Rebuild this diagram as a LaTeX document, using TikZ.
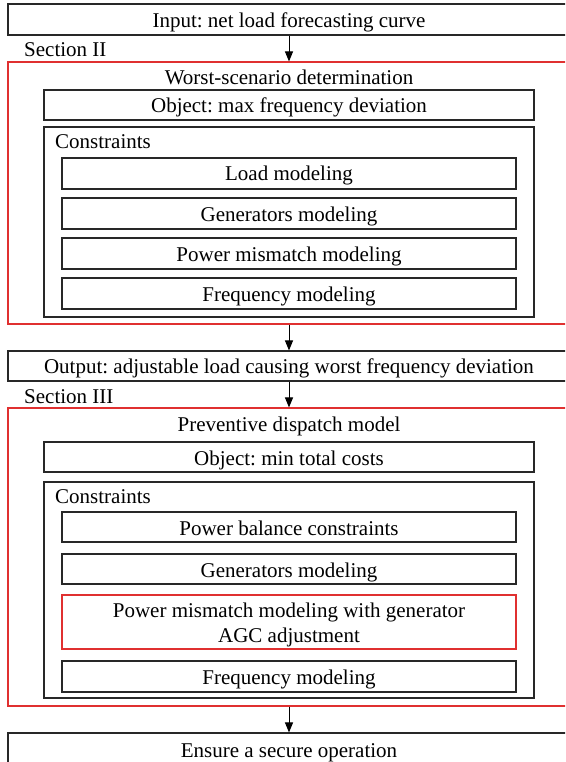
\documentclass[tikz,border=0pt]{standalone}
\usepackage{fontspec}
\setmainfont{Liberation Serif}
\frenchspacing
\usetikzlibrary{arrows.meta,fit}
\definecolor{secred}{RGB}{224,48,48}
\definecolor{linegray}{RGB}{40,40,40}
\begin{document}
\begin{tikzpicture}[x=1pt,y=-1pt,
  lbl/.style={font=\fontsize{21}{25}\selectfont, inner sep=0pt, anchor=base},
  lbll/.style={lbl, anchor=base west},
  blk/.style={draw=linegray, line width=1.1pt, inner sep=0pt},
  redblk/.style={draw=secred, line width=1.1pt, inner sep=0pt},
  flow/.style={draw=black, line width=1pt, -{Triangle[length=10pt,width=8pt]}}]
\useasboundingbox (0,0) rectangle (565,762);
\clip (0,0) rectangle (565,762);
\coordinate (axis) at (289,0);

% input
\node[blk, fit={(8,4)(570,35)}] (inp) {};
\node[lbl] (inpT) at (289,28) {Input: net load forecasting curve};

% Section II: worst-scenario determination
\node[lbll] (s2T) at (24,57) {Section II};
\node[redblk, fit={(8,62)(570,324)}] (s2) {};
\node[lbl] (s2title) at (289,85) {Worst-scenario determination};
\node[blk, fit={(44,90)(534,120)}] (obj1) {};
\node[lbl] (obj1T) at (289,113) {Object: max frequency deviation};
\node[blk, fit={(44,127)(534,317)}] (con1) {};
\node[lbll] (con1T) at (55,149) {Constraints};
\node[blk, fit={(62,158)(516,189)}] (c1a) {};
\node[lbl] (c1aT) at (289,181) {Load modeling};
\node[blk, fit={(62,198)(516,229)}] (c1b) {};
\node[lbl] (c1bT) at (289,221) {Generators modeling};
\node[blk, fit={(62,238)(516,269)}] (c1c) {};
\node[lbl] (c1cT) at (289,261) {Power mismatch modeling};
\node[blk, fit={(62,278)(516,309)}] (c1d) {};
\node[lbl] (c1dT) at (289,301) {Frequency modeling};

% output of section II
\node[blk, fit={(8,351)(570,381)}] (out) {};
\node[lbl] (outT) at (289,373) {Output: adjustable load causing worst frequency deviation};

% Section III: preventive dispatch
\node[lbll] (s3T) at (24,403) {Section III};
\node[redblk, fit={(8,408)(570,706)}] (s3) {};
\node[lbl] (s3title) at (289,431) {Preventive dispatch model};
\node[blk, fit={(44,442)(534,472)}] (obj2) {};
\node[lbl] (obj2T) at (289,465) {Object: min total costs};
\node[blk, fit={(44,482)(534,698)}] (con2) {};
\node[lbll] (con2T) at (55,503) {Constraints};
\node[blk, fit={(62,512)(516,542)}] (c2a) {};
\node[lbl] (c2aT) at (289,535) {Power balance constraints};
\node[blk, fit={(62,554)(516,584)}] (c2b) {};
\node[lbl] (c2bT) at (289,577) {Generators modeling};
\node[redblk, fit={(62,595)(516,649)}] (c2c) {};
\node[lbl] (c2cT1) at (289,617) {Power mismatch modeling with generator};
\node[lbl] (c2cT2) at (289,642) {AGC adjustment};
\node[blk, fit={(62,661)(516,692)}] (c2d) {};
\node[lbl] (c2dT) at (289,684) {Frequency modeling};

% final result
\node[blk, fit={(8,733)(570,800)}] (fin) {};
\node[lbl] (finT) at (289,757) {Ensure a secure operation};

% flow arrows
\draw[flow] (inp.south -| axis) -- (s2.north -| axis);
\draw[flow] (s2.south -| axis) -- (out.north -| axis);
\draw[flow] (out.south -| axis) -- (s3.north -| axis);
\draw[flow] (s3.south -| axis) -- (fin.north -| axis);
\end{tikzpicture}
\end{document}
